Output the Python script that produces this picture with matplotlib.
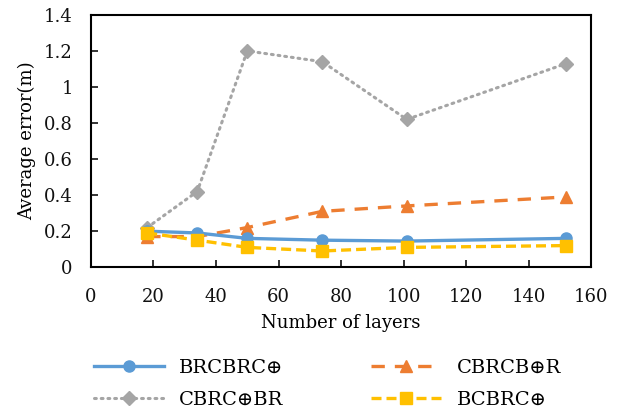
import matplotlib
matplotlib.use('Agg')
import matplotlib.pyplot as plt

plt.rcParams['font.family'] = ['DejaVu Serif']

layers = [18, 34, 50, 74, 101, 152]
brcbrc = [0.20, 0.19, 0.16, 0.15, 0.145, 0.16]
cbrcbr = [0.17, 0.17, 0.22, 0.31, 0.34, 0.39]
cbrc_br = [0.22, 0.42, 1.20, 1.14, 0.82, 1.13]
bcbrc = [0.19, 0.15, 0.11, 0.09, 0.11, 0.12]

fig = plt.figure(figsize=(6.27, 4.13), dpi=100)
ax = fig.add_axes([0.145, 0.353, 0.798, 0.611])

ax.plot(layers, brcbrc, color='#5B9BD5', lw=2.4, marker='o', ms=8,
        label='BRCBRC\u2295', zorder=3)
ax.plot(layers, cbrcbr, color='#ED7D31', lw=2.4, ls=(0, (4, 3)), marker='^',
        ms=8, label='CBRCB\u2295R', zorder=2)
ax.plot(layers, cbrc_br, color='#A5A5A5', lw=2.2, ls=(0, (0.6, 1.6)),
        dash_capstyle='round', marker='D', ms=7, label='CBRC\u2295BR', zorder=1)
ax.plot(layers, bcbrc, color='#FFC000', lw=2.4, ls=(0, (3, 1.5)), marker='s',
        ms=8, label='BCBRC\u2295', zorder=4)

ax.set_xlim(0, 160)
ax.set_ylim(0, 1.4)
ax.set_xticks(range(0, 161, 20))
ax.set_yticks([0, 0.2, 0.4, 0.6, 0.8, 1, 1.2, 1.4])
ax.set_yticklabels(['0', '0.2', '0.4', '0.6', '0.8', '1', '1.2', '1.4'])
ax.tick_params(direction='in', length=5, width=1.2, labelsize=13, colors='#111111')
ax.tick_params(axis='x', pad=15)
ax.tick_params(axis='y', pad=13)
for s in ax.spines.values():
    s.set_linewidth(1.5)
ax.set_xlabel('Number of layers', fontsize=13, labelpad=6)
ax.set_ylabel('Average error(m)', fontsize=13, labelpad=6)

handles, labels = ax.get_legend_handles_labels()
order = [0, 2, 1, 3]
fig.legend([handles[i] for i in order], [labels[i] for i in order],
           loc='center', bbox_to_anchor=(0.522, 0.07), ncol=2, frameon=False,
           fontsize=14, handlelength=3.6, columnspacing=4.5, labelspacing=0.7)

fig.savefig('out.png', dpi=100)
